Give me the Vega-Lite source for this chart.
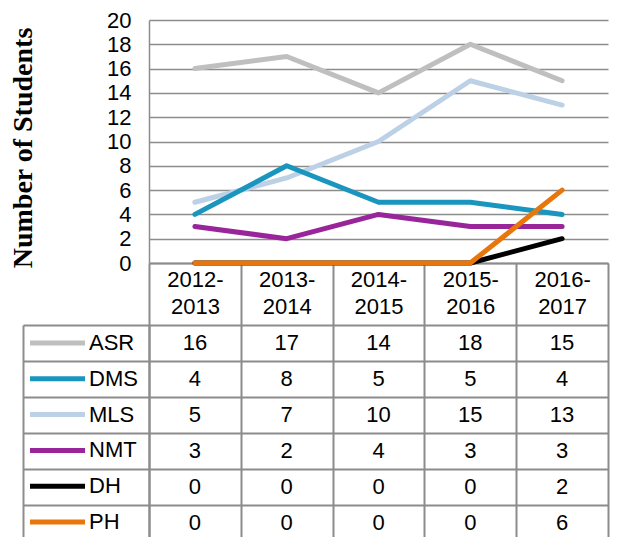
{
  "$schema": "https://vega.github.io/schema/vega-lite/v6.json",
  "width": 459,
  "height": 243,
  "autosize": {"type": "none"},
  "padding": {"left": 149, "top": 20, "right": 9, "bottom": 274},
  "background": "white",
  "config": {
    "view": {"stroke": null},
    "font": "Liberation Sans",
    "text": {"font": "Liberation Sans"}
  },
  "data": {
    "values": [
      {"series": "ASR", "period": "2012-2013", "value": 16},
      {"series": "ASR", "period": "2013-2014", "value": 17},
      {"series": "ASR", "period": "2014-2015", "value": 14},
      {"series": "ASR", "period": "2015-2016", "value": 18},
      {"series": "ASR", "period": "2016-2017", "value": 15},
      {"series": "MLS", "period": "2012-2013", "value": 5},
      {"series": "MLS", "period": "2013-2014", "value": 7},
      {"series": "MLS", "period": "2014-2015", "value": 10},
      {"series": "MLS", "period": "2015-2016", "value": 15},
      {"series": "MLS", "period": "2016-2017", "value": 13},
      {"series": "DMS", "period": "2012-2013", "value": 4},
      {"series": "DMS", "period": "2013-2014", "value": 8},
      {"series": "DMS", "period": "2014-2015", "value": 5},
      {"series": "DMS", "period": "2015-2016", "value": 5},
      {"series": "DMS", "period": "2016-2017", "value": 4},
      {"series": "NMT", "period": "2012-2013", "value": 3},
      {"series": "NMT", "period": "2013-2014", "value": 2},
      {"series": "NMT", "period": "2014-2015", "value": 4},
      {"series": "NMT", "period": "2015-2016", "value": 3},
      {"series": "NMT", "period": "2016-2017", "value": 3},
      {"series": "DH", "period": "2012-2013", "value": 0},
      {"series": "DH", "period": "2013-2014", "value": 0},
      {"series": "DH", "period": "2014-2015", "value": 0},
      {"series": "DH", "period": "2015-2016", "value": 0},
      {"series": "DH", "period": "2016-2017", "value": 2},
      {"series": "PH", "period": "2012-2013", "value": 0},
      {"series": "PH", "period": "2013-2014", "value": 0},
      {"series": "PH", "period": "2014-2015", "value": 0},
      {"series": "PH", "period": "2015-2016", "value": 0},
      {"series": "PH", "period": "2016-2017", "value": 6}
    ]
  },
  "layer": [
    {
      "mark": {"type": "line", "strokeWidth": 5, "strokeCap": "round", "strokeJoin": "round"},
      "encoding": {
        "x": {
          "field": "period", "type": "ordinal", "bandPosition": 0.5,
          "scale": {"type": "band", "paddingInner": 0, "paddingOuter": 0},
          "axis": {
            "orient": "bottom", "title": null,
            "domain": true, "domainColor": "#8c8c8c", "domainWidth": 2,
            "ticks": true, "tickBand": "extent", "tickSize": 277, "tickColor": "#8c8c8c", "tickWidth": 2,
            "grid": false,
            "labelExpr": "[substring(datum.label, 0, 5), substring(datum.label, 5)]",
            "labelFont": "Liberation Sans", "labelFontSize": 22, "labelColor": "black",
            "labelLineHeight": 27.5, "labelPadding": -271, "labelAngle": 0
          }
        },
        "y": {
          "field": "value", "type": "quantitative",
          "scale": {"domain": [0, 20], "nice": false},
          "axis": {
            "values": [0, 2, 4, 6, 8, 10, 12, 14, 16, 18, 20],
            "domain": true, "domainColor": "#8c8c8c", "domainWidth": 1.5,
            "ticks": false, "grid": true, "gridColor": "#8c8c8c", "gridWidth": 1.5,
            "labelFont": "Liberation Sans", "labelFontSize": 22, "labelColor": "black", "labelPadding": 18,
            "title": "Number of Students", "titleFont": "Liberation Serif", "titleFontWeight": "bold",
            "titleFontSize": 28, "titleColor": "black", "titlePadding": 69, "titleY": 127.5
          }
        },
        "color": {
          "field": "series", "type": "nominal",
          "scale": {
            "domain": ["ASR", "DMS", "MLS", "NMT", "DH", "PH"],
            "range": ["#bfbfbf", "#1a96be", "#bcd0e6", "#99259a", "#000000", "#e8760a"]
          },
          "legend": {
            "orient": "none", "legendX": -105, "legendY": 309.5, "title": null, "padding": 0,
            "symbolType": "M-2.5,0H2.5", "symbolSize": 484, "symbolStrokeWidth": 5,
            "labelFont": "Liberation Sans", "labelFontSize": 22, "labelColor": "black", "labelOffset": 18,
            "rowPadding": 10.8
          }
        }
      }
    },
    {
      "mark": {"type": "text", "font": "Liberation Sans", "fontSize": 22, "color": "black"},
      "encoding": {
        "x": {"field": "period", "type": "ordinal", "bandPosition": 0.5},
        "y": {
          "field": "series", "type": "nominal",
          "scale": {"type": "band", "domain": ["ASR", "DMS", "MLS", "NMT", "DH", "PH"], "range": [305, 520.5], "paddingInner": 0, "paddingOuter": 0},
          "axis": {
            "orient": "left", "title": null, "labels": false,
            "domain": true, "domainColor": "#8c8c8c", "domainWidth": 2,
            "ticks": true, "tickBand": "extent", "tickSize": 126, "tickColor": "#8c8c8c", "tickWidth": 2,
            "grid": true, "gridColor": "#8c8c8c", "gridWidth": 2
          }
        },
        "text": {"field": "value", "type": "quantitative"}
      }
    },
    {
      "mark": {"type": "text", "opacity": 0},
      "encoding": {
        "y": {
          "field": "series", "type": "nominal",
          "scale": {"type": "band", "domain": ["ASR", "DMS", "MLS", "NMT", "DH", "PH"], "range": [305, 520.5], "paddingInner": 0, "paddingOuter": 0},
          "axis": {
            "orient": "left", "offset": 126, "title": null, "labels": false,
            "domain": true, "domainColor": "#8c8c8c", "domainWidth": 2,
            "ticks": false, "grid": false
          }
        }
      }
    }
  ],
  "resolve": {"scale": {"y": "independent"}, "axis": {"y": "independent"}}
}
